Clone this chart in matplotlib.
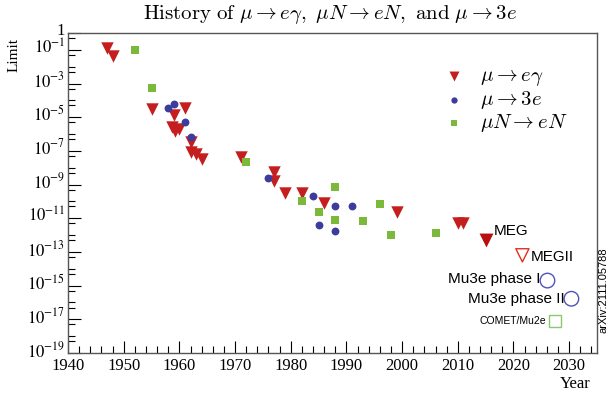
import matplotlib
matplotlib.use("Agg")
import matplotlib.pyplot as plt
import matplotlib.ticker as mticker
import matplotlib.transforms as mtransforms

# mu -> e gamma
meg_year = [1947, 1948, 1955, 1959, 1961, 1958.7, 1959.2, 1960, 1962, 1962,
            1963, 1964, 1971, 1977, 1977, 1979, 1982, 1986, 1999, 2010, 2011]
meg_limit = [1.3e-1, 4.4e-2, 3e-5, 1.3e-5, 3.4e-5, 2.8e-6, 1.6e-6, 2e-6, 3.2e-7, 9e-8,
             6.5e-8, 3.2e-8, 4.5e-8, 5.8e-9, 1.6e-9, 3.2e-10, 3e-10, 8e-11, 2.4e-11,
             5.2e-12, 5e-12]

# mu -> 3e
m3e_year = [1958, 1959, 1961, 1962, 1976, 1984, 1985, 1988, 1988, 1991]
m3e_limit = [3.4e-5, 5.9e-5, 5e-6, 6.3e-7, 2.6e-9, 2.1e-10, 3.8e-12, 5.1e-11, 1.7e-12, 5.4e-11]

# mu N -> e N
mne_year = [1952, 1955, 1972, 1982, 1985, 1988, 1988, 1993, 1996, 1998, 2006]
mne_limit = [1e-1, 5.2e-4, 2.1e-8, 1e-10, 2.4e-11, 7.2e-10, 7.6e-12, 6.9e-12, 7.4e-11,
             1e-12, 1.26e-12]

# latest / future experiments
exp_names = ["MEG", "MEGII", "Mu3e phase I", "Mu3e phase II", "COMET/Mu2e"]
exp_year = [2015, 2021.6, 2026.1, 2030.4, 2027.4]
exp_limit = [4.9e-13, 6.3e-14, 2e-15, 1.66e-16, 8e-18]

red = "#c41e1e"
blue = "#3b3c9c"
green = "#7cb83a"
serif = "Liberation Serif"
sans = "Liberation Sans"

fig = plt.figure(figsize=(6.1, 3.95), dpi=100)
ax = fig.add_axes([0.1115, 0.1063, 0.8672, 0.8102])

ax.scatter(meg_year, meg_limit, marker="v", s=80, color=red, lw=0, zorder=3,
           label=r"$\mu \rightarrow e\gamma$")
ax.scatter(m3e_year, m3e_limit, marker="o", s=32, color=blue, lw=0, zorder=3,
           label=r"$\mu \rightarrow 3e$")
ax.scatter(mne_year, mne_limit, marker="s", s=28, color=green, lw=0, zorder=3,
           label=r"$\mu N \rightarrow eN$")

# experiments
ax.scatter(exp_year[0], exp_limit[0], marker="v", s=100, color="#b81010", lw=0, zorder=3)
ax.scatter(exp_year[1], exp_limit[1], marker="v", s=90, facecolor="none",
           edgecolor="#e03020", lw=1.0, zorder=3)
ax.scatter(exp_year[2:4], exp_limit[2:4], marker="o", s=110, facecolor="none",
           edgecolor="#5252b8", lw=1.0, zorder=3)
ax.plot(exp_year[4], exp_limit[4], marker="s", ms=9, mfc="none", mec="#8cc870",
        mew=1.0, ls="none", zorder=3)

ax.annotate(exp_names[0], (exp_year[0], exp_limit[0]), xytext=(6, 2),
            textcoords="offset points", fontsize=11, family=sans, va="bottom")
ax.annotate(exp_names[1], (exp_year[1], exp_limit[1]), xytext=(6, -1),
            textcoords="offset points", fontsize=11, family=sans, va="center")
ax.annotate(exp_names[2], (exp_year[2], exp_limit[2]), xytext=(-5, 1),
            textcoords="offset points", fontsize=11, family=sans, va="center", ha="right")
ax.annotate(exp_names[3], (exp_year[3], exp_limit[3]), xytext=(-5, 0),
            textcoords="offset points", fontsize=11, family=sans, va="center", ha="right")
ax.annotate(exp_names[4], (exp_year[4], exp_limit[4]), xytext=(-6, 0),
            textcoords="offset points", fontsize=7.5, family=sans, va="center", ha="right",
            fontstretch="condensed")

ax.set_yscale("log")
ax.set_xlim(1940, 2035)
ax.set_ylim(1e-19, 1)

ax.xaxis.set_major_locator(mticker.MultipleLocator(10))
ax.xaxis.set_minor_locator(mticker.MultipleLocator(2))
yticks = [1] + [10.0 ** (-k) for k in range(1, 20, 2)]
ylabels = ["1"] + [r"$10^{-%d}$" % k for k in range(1, 20, 2)]
ax.set_yticks(yticks)
ax.set_yticklabels(ylabels)
minor = [10.0 ** (-k) for k in range(2, 19, 2)] + [5 * 10.0 ** (-k) for k in range(1, 20)]
ax.yaxis.set_minor_locator(mticker.FixedLocator(minor))
ax.yaxis.set_minor_formatter(mticker.NullFormatter())

ax.tick_params(which="both", direction="in", top=False, right=False)
ax.tick_params(which="major", length=9, width=0.8)
ax.tick_params(which="minor", length=5, width=0.8)
ax.tick_params(axis="x", pad=3.5)
ax.tick_params(axis="y", pad=2)
for lab in ax.get_xticklabels() + ax.get_yticklabels():
    lab.set_family(serif)
    lab.set_fontsize(12)
    lab.set_math_fontfamily("stix")

# nudge the y labels up a little so 10^-19 clears 1940
shift = mtransforms.ScaledTranslation(0, 4 / 100, fig.dpi_scale_trans)
for lab in ax.get_yticklabels():
    lab.set_transform(lab.get_transform() + shift)

for sp in ax.spines.values():
    sp.set_color("#555555")
    sp.set_linewidth(1.0)

fig.text(0.023, 0.86, "Limit", rotation=90, family=serif, fontsize=11,
         ha="center", va="center")
fig.text(0.943, 0.028, "Year", family=serif, fontsize=12, ha="center", va="center")
fig.text(0.99, 0.265, "arXiv:2111.05788", rotation=90, family=sans, fontsize=8,
         ha="center", va="center")

fig.text(0.541, 0.963,
         r"$\mathrm{History\ of}\ \mu \rightarrow e\gamma,\ \mu N \rightarrow eN,\ \mathrm{and}\ \mu \rightarrow 3e$",
         fontsize=15, ha="center", va="center", math_fontfamily="cm")

leg = ax.legend(loc="upper left", bbox_to_anchor=(0.685, 0.925), frameon=False,
                prop={"size": 15}, handletextpad=0.5, labelspacing=0.05,
                markerscale=0.8, borderaxespad=0, handlelength=1.5)
for t in leg.get_texts():
    t.set_math_fontfamily("cm")

fig.savefig("out.png", dpi=100)
